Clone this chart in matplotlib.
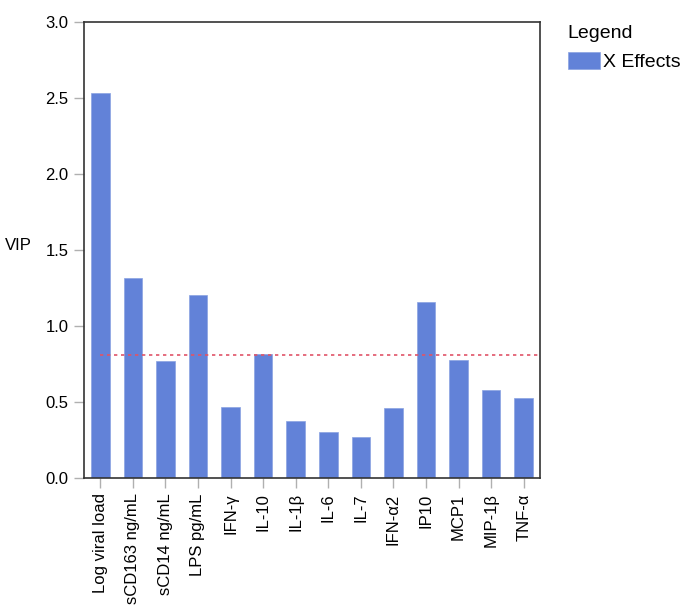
import matplotlib
matplotlib.use("Agg")
import matplotlib.pyplot as plt

plt.rcParams["font.family"] = ["Liberation Sans", "DejaVu Sans"]

markers = ["Log viral load", "sCD163 ng/mL", "sCD14 ng/mL", "LPS pg/mL",
           "IFN-\u03b3", "IL-10", "IL-1\u03b2", "IL-6", "IL-7",
           "IFN-\u03b12", "IP10", "MCP1", "MIP-1\u03b2", "TNF-\u03b1"]
vip = [2.53, 1.316, 0.772, 1.204, 0.467, 0.814, 0.373, 0.305, 0.268,
       0.463, 1.158, 0.776, 0.579, 0.528]
threshold = 0.81

fig = plt.figure(figsize=(6.89, 6.11), dpi=100)
ax = fig.add_axes([0.1219, 0.2177, 0.6618, 0.7463])

x = list(range(len(markers)))
ax.bar(x, vip, width=0.57, color="#6282d8", edgecolor="#8aa2e2",
       linewidth=0.5, label="X Effects", zorder=2)
ax.hlines(threshold, 0, len(markers) - 0.5, colors="#e05468",
          linestyles=(0, (2, 2.2)), linewidth=1.2, zorder=3)

ax.set_xlim(-0.5, len(markers) - 0.5)
ax.set_ylim(0, 3.0)
ax.set_yticks([0, 0.5, 1.0, 1.5, 2.0, 2.5, 3.0])
ax.set_yticklabels(["0.0", "0.5", "1.0", "1.5", "2.0", "2.5", "3.0"])
ax.set_xticks(x)
ax.set_xticklabels(markers, rotation=90)

ax.tick_params(axis="both", colors="#b0b0b0", labelcolor="black",
               labelsize=12, length=7, width=1, pad=4)
for s in ax.spines.values():
    s.set_color("#333333")
    s.set_linewidth(1.2)

ax.set_ylabel("VIP", rotation=0, fontsize=12, ha="center", va="center")
ax.yaxis.set_label_coords(-0.143, 0.509)

leg = ax.legend(loc="upper left", bbox_to_anchor=(1.061, 0.993), frameon=False,
                title="Legend", fontsize=14, title_fontsize=14,
                borderpad=0, borderaxespad=0,
                handlelength=1.65, handleheight=0.95, handletextpad=0.15,
                alignment="left")

fig.savefig("out.png", dpi=100)
